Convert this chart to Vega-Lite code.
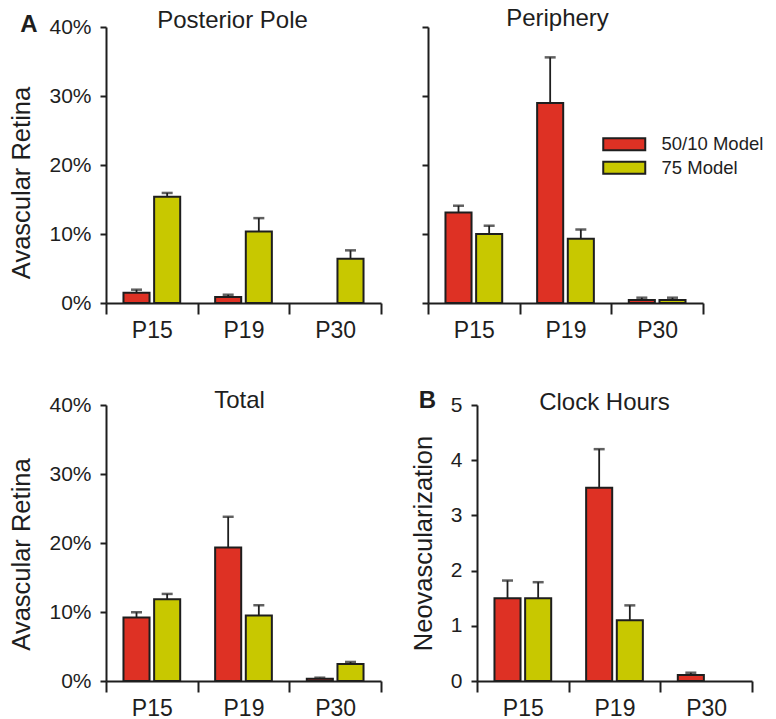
{
"$schema": "https://vega.github.io/schema/vega-lite/v6.json",
"padding": {"left": 9, "top": 7, "right": 5, "bottom": 2},
"config": {
 "font": "Liberation Sans",
 "view": {"stroke": null},
 "axis": {"grid": false, "domainColor": "#1e1e1e", "domainWidth": 2, "tickColor": "#1e1e1e", "tickWidth": 2, "labelColor": "#1e1e1e", "titleColor": "#1e1e1e", "labelFont": "Liberation Sans", "titleFont": "Liberation Sans", "titleFontWeight": "normal"},
 "title": {"fontSize": 24, "fontWeight": "normal", "color": "#1e1e1e", "font": "Liberation Sans", "baseline": "alphabetic"}
},
"datasets": {
 "pp": [
  {"day": "P15", "model": "50/10 Model", "value": 1.5, "upper": 1.93},
  {"day": "P15", "model": "75 Model", "value": 15.4, "upper": 15.95},
  {"day": "P19", "model": "50/10 Model", "value": 0.87, "upper": 1.2},
  {"day": "P19", "model": "75 Model", "value": 10.35, "upper": 12.3},
  {"day": "P30", "model": "75 Model", "value": 6.43, "upper": 7.63}
 ],
 "per": [
  {"day": "P15", "model": "50/10 Model", "value": 13.1, "upper": 14.1},
  {"day": "P15", "model": "75 Model", "value": 10.0, "upper": 11.2},
  {"day": "P19", "model": "50/10 Model", "value": 29.0, "upper": 35.6},
  {"day": "P19", "model": "75 Model", "value": 9.3, "upper": 10.65},
  {"day": "P30", "model": "50/10 Model", "value": 0.44, "upper": 0.77},
  {"day": "P30", "model": "75 Model", "value": 0.44, "upper": 0.77}
 ],
 "tot": [
  {"day": "P15", "model": "50/10 Model", "value": 9.2, "upper": 9.96},
  {"day": "P15", "model": "75 Model", "value": 11.85, "upper": 12.62},
  {"day": "P19", "model": "50/10 Model", "value": 19.35, "upper": 23.8},
  {"day": "P19", "model": "75 Model", "value": 9.48, "upper": 10.98},
  {"day": "P30", "model": "50/10 Model", "value": 0.34, "upper": 0.48},
  {"day": "P30", "model": "75 Model", "value": 2.47, "upper": 2.76}
 ],
 "clk": [
  {"day": "P15", "model": "50/10 Model", "value": 1.5, "upper": 1.82},
  {"day": "P15", "model": "75 Model", "value": 1.5, "upper": 1.79},
  {"day": "P19", "model": "50/10 Model", "value": 3.5, "upper": 4.2},
  {"day": "P19", "model": "75 Model", "value": 1.1, "upper": 1.37},
  {"day": "P30", "model": "50/10 Model", "value": 0.11, "upper": 0.15}
 ]
},
"spacing": 46,
"resolve": {"scale": {"color": "independent"}, "legend": {"color": "independent"}},
"vconcat": [
 {"spacing": 39,
  "resolve": {"scale": {"color": "independent"}, "legend": {"color": "independent"}},
  "hconcat": [
  {
   "width": 275, "height": 276,
   "data": {"name": "pp"},
   "title": {"text": "Posterior Pole", "dx": -11, "offset": -21},
   "resolve": {"axis": {"x": "independent"}},
   "layer": [
    {"mark": {"type": "bar", "stroke": "#1e1e1e", "strokeWidth": 2},
     "encoding": {
      "x": {"field": "day", "type": "nominal", "scale": {"domain": ["P15", "P19", "P30"], "paddingInner": 0, "paddingOuter": 0}, "axis": {"title": null, "tickBand": "extent", "tickSize": 11, "labelFontSize": 23, "labelPadding": 5, "labelDx": 6, "labelAngle": 0}},
      "xOffset": {"field": "model", "type": "nominal", "scale": {"domain": ["50/10 Model", "75 Model"], "paddingInner": 0.15, "paddingOuter": 0.57}},
      "y": {"field": "value", "type": "quantitative", "scale": {"domain": [0, 40], "nice": false}, "axis": {"title": "Avascular Retina", "values": [0, 10, 20, 30, 40], "labelExpr": "datum.value + '%'", "tickSize": 6, "labelPadding": 9, "labelFontSize": 21, "titleFontSize": 25.5, "titlePadding": 14, "titleY": 155.5}},
      "color": {"field": "model", "type": "nominal", "scale": {"domain": ["50/10 Model", "75 Model"], "range": ["#de3124", "#c8c800"]}, "legend": null}
     }},
    {"mark": {"type": "rule", "color": "#1e1e1e", "strokeWidth": 1.8},
     "encoding": {
      "x": {"field": "day", "type": "nominal", "axis": null},
      "xOffset": {"field": "model", "type": "nominal"},
      "y": {"field": "value", "type": "quantitative"},
      "y2": {"field": "upper"}
     }},
    {"mark": {"type": "tick", "color": "#1e1e1e", "thickness": 2.5, "size": 11},
     "encoding": {
      "x": {"field": "day", "type": "nominal", "axis": {"orient": "top", "title": "A", "labels": false, "ticks": false, "domain": false, "titleFontSize": 24, "titleFontWeight": "bold", "titleX": -77.5, "titleY": 4, "titleBaseline": "alphabetic", "titleAlign": "center", "titleAngle": 0}},
      "xOffset": {"field": "model", "type": "nominal"},
      "y": {"field": "upper", "type": "quantitative"}
     }}
   ]
  },
  {
   "width": 275, "height": 276,
   "data": {"name": "per"},
   "title": {"text": "Periphery", "dx": -8, "offset": -5},
   "layer": [
    {"mark": {"type": "bar", "stroke": "#1e1e1e", "strokeWidth": 2},
     "encoding": {
      "x": {"field": "day", "type": "nominal", "scale": {"domain": ["P15", "P19", "P30"], "paddingInner": 0, "paddingOuter": 0}, "axis": {"title": null, "tickBand": "extent", "tickSize": 11, "labelFontSize": 23, "labelPadding": 5, "labelDx": 6, "labelAngle": 0}},
      "xOffset": {"field": "model", "type": "nominal", "scale": {"domain": ["50/10 Model", "75 Model"], "paddingInner": 0.15, "paddingOuter": 0.57}},
      "y": {"field": "value", "type": "quantitative", "scale": {"domain": [0, 40], "nice": false}, "axis": {"title": null, "values": [0, 10, 20, 30, 40], "labels": false, "tickSize": 6}},
      "color": {"field": "model", "type": "nominal", "scale": {"domain": ["50/10 Model", "75 Model"], "range": ["#de3124", "#c8c800"]}, "legend": {"orient": "none", "legendX": 187, "legendY": 108, "title": null, "symbolType": "M-3.5,-1H3.5V1H-3.5Z", "symbolSize": 144, "symbolStrokeColor": "#1e1e1e", "symbolStrokeWidth": 2, "symbolOpacity": 1, "labelFontSize": 18.5, "labelOffset": 28, "rowPadding": 2.5, "padding": 0, "labelColor": "#1e1e1e", "labelFont": "Liberation Sans"}}
     }},
    {"mark": {"type": "rule", "color": "#1e1e1e", "strokeWidth": 1.8},
     "encoding": {
      "x": {"field": "day", "type": "nominal"},
      "xOffset": {"field": "model", "type": "nominal"},
      "y": {"field": "value", "type": "quantitative"},
      "y2": {"field": "upper"}
     }},
    {"mark": {"type": "tick", "color": "#1e1e1e", "thickness": 2.5, "size": 11},
     "encoding": {
      "x": {"field": "day", "type": "nominal"},
      "xOffset": {"field": "model", "type": "nominal"},
      "y": {"field": "upper", "type": "quantitative"}
     }}
   ]
  }
 ]},
 {"spacing": 29,
  "resolve": {"scale": {"color": "independent"}, "legend": {"color": "independent"}},
  "hconcat": [
  {
   "width": 275, "height": 276,
   "data": {"name": "tot"},
   "title": {"text": "Total", "dx": -4, "offset": -19},
   "layer": [
    {"mark": {"type": "bar", "stroke": "#1e1e1e", "strokeWidth": 2},
     "encoding": {
      "x": {"field": "day", "type": "nominal", "scale": {"domain": ["P15", "P19", "P30"], "paddingInner": 0, "paddingOuter": 0}, "axis": {"title": null, "tickBand": "extent", "tickSize": 11, "labelFontSize": 23, "labelPadding": 5, "labelDx": 6, "labelAngle": 0}},
      "xOffset": {"field": "model", "type": "nominal", "scale": {"domain": ["50/10 Model", "75 Model"], "paddingInner": 0.15, "paddingOuter": 0.57}},
      "y": {"field": "value", "type": "quantitative", "scale": {"domain": [0, 40], "nice": false}, "axis": {"title": "Avascular Retina", "values": [0, 10, 20, 30, 40], "labelExpr": "datum.value + '%'", "tickSize": 6, "labelPadding": 9, "labelFontSize": 21, "titleFontSize": 25.5, "titlePadding": 14, "titleY": 149}},
      "color": {"field": "model", "type": "nominal", "scale": {"domain": ["50/10 Model", "75 Model"], "range": ["#de3124", "#c8c800"]}, "legend": null}
     }},
    {"mark": {"type": "rule", "color": "#1e1e1e", "strokeWidth": 1.8},
     "encoding": {
      "x": {"field": "day", "type": "nominal"},
      "xOffset": {"field": "model", "type": "nominal"},
      "y": {"field": "value", "type": "quantitative"},
      "y2": {"field": "upper"}
     }},
    {"mark": {"type": "tick", "color": "#1e1e1e", "thickness": 2.5, "size": 11},
     "encoding": {
      "x": {"field": "day", "type": "nominal"},
      "xOffset": {"field": "model", "type": "nominal"},
      "y": {"field": "upper", "type": "quantitative"}
     }}
   ]
  },
  {
   "width": 275, "height": 276,
   "data": {"name": "clk"},
   "title": {"text": "Clock Hours", "dx": -10, "offset": -26},
   "resolve": {"axis": {"x": "independent"}},
   "layer": [
    {"mark": {"type": "bar", "stroke": "#1e1e1e", "strokeWidth": 2},
     "encoding": {
      "x": {"field": "day", "type": "nominal", "scale": {"domain": ["P15", "P19", "P30"], "paddingInner": 0, "paddingOuter": 0}, "axis": {"title": null, "tickBand": "extent", "tickSize": 11, "labelFontSize": 23, "labelPadding": 5, "labelDx": 6, "labelAngle": 0}},
      "xOffset": {"field": "model", "type": "nominal", "scale": {"domain": ["50/10 Model", "75 Model"], "paddingInner": 0.15, "paddingOuter": 0.57}},
      "y": {"field": "value", "type": "quantitative", "scale": {"domain": [0, 5], "nice": false}, "axis": {"title": "Neovascularization", "values": [0, 1, 2, 3, 4, 5], "tickSize": 6, "labelPadding": 9, "labelFontSize": 21, "titleFontSize": 25.5, "titlePadding": 14}},
      "color": {"field": "model", "type": "nominal", "scale": {"domain": ["50/10 Model", "75 Model"], "range": ["#de3124", "#c8c800"]}, "legend": null}
     }},
    {"mark": {"type": "rule", "color": "#1e1e1e", "strokeWidth": 1.8},
     "encoding": {
      "x": {"field": "day", "type": "nominal", "axis": null},
      "xOffset": {"field": "model", "type": "nominal"},
      "y": {"field": "value", "type": "quantitative"},
      "y2": {"field": "upper"}
     }},
    {"mark": {"type": "tick", "color": "#1e1e1e", "thickness": 2.5, "size": 11},
     "encoding": {
      "x": {"field": "day", "type": "nominal", "axis": {"orient": "top", "title": "B", "labels": false, "ticks": false, "domain": false, "titleFontSize": 24, "titleFontWeight": "bold", "titleX": -50, "titleY": 2.6, "titleBaseline": "alphabetic", "titleAlign": "center", "titleAngle": 0}},
      "xOffset": {"field": "model", "type": "nominal"},
      "y": {"field": "upper", "type": "quantitative"}
     }}
   ]
  }
 ]}
]
}
